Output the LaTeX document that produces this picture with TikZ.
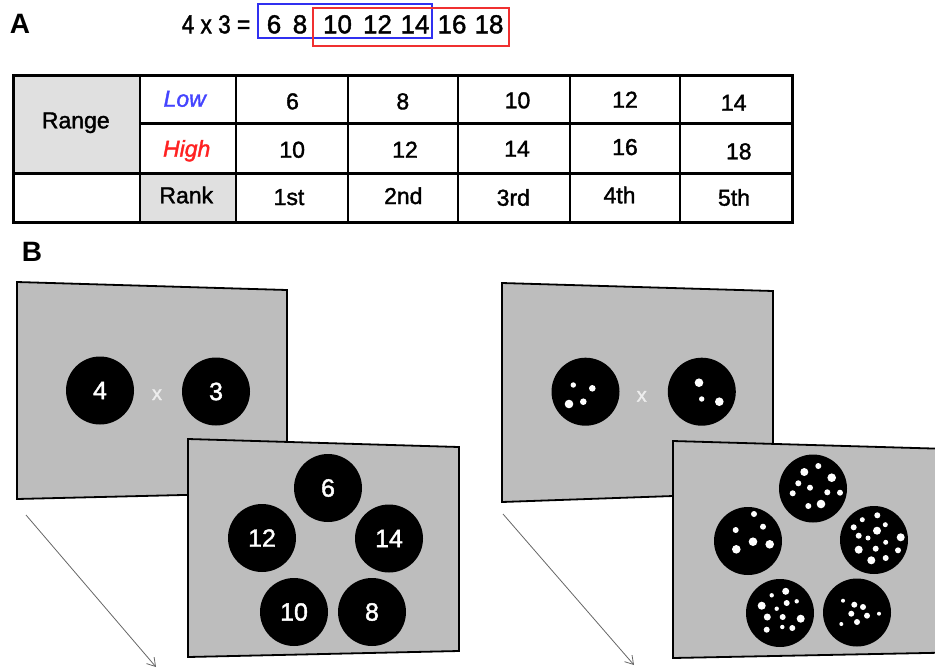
\documentclass[tikz,border=0pt]{standalone}
\usepackage{fontspec}
\setmainfont{Liberation Sans}
\newfontfamily\heavysans{Liberation Sans}[FakeBold=1.6]
\usetikzlibrary{arrows.meta}
\definecolor{screengray}{HTML}{BDBDBD}
\definecolor{cellgray}{HTML}{E0E0E0}
\definecolor{lowblue}{HTML}{4444FF}
\definecolor{highred}{HTML}{FF2222}
\definecolor{boxblue}{HTML}{3030F0}
\definecolor{boxred}{HTML}{F03030}
\begin{document}
\begin{tikzpicture}[x=1pt,y=-1pt,
  panel/.style={font=\fontsize{28}{30}\selectfont\bfseries, anchor=base, inner sep=0pt},
  eqtext/.style={font=\fontsize{26}{30}\selectfont\heavysans, anchor=base, inner sep=0pt},
  tabtext/.style={font=\fontsize{23}{26}\selectfont\heavysans, anchor=base, inner sep=0pt},
  screen/.style={fill=screengray, draw=black, line width=1.8pt, line join=miter},
  disc/.style={circle, fill=black, minimum size=68pt, inner sep=0pt, text=white, font=\fontsize{25}{28}\selectfont\heavysans},
  xmark/.style={text=white!93!black, font=\fontsize{20}{22}\selectfont\heavysans, anchor=base, inner sep=0pt},
  timearrow/.style={draw=black!60, line width=0.8pt, -{Straight Barb[length=8pt,width=10pt]}},
  gridline/.style={line width=2.6pt, line cap=rect},
  eqbox/.style={line width=1.5pt}
]
\useasboundingbox (0,0) rectangle (935,670);

% ---------- Panel A ----------
\node[panel] (labA) at (20,33.3) {A};
\node[eqtext] (eq) at (216,33.3) {\scalebox{0.87}[1]{4 x 3 =}};
\draw[eqbox, boxblue] (258,4) rectangle (432,38);
\draw[eqbox, boxred] (313,8) rectangle (509,46);
\node[eqtext] (n6) at (274,33.3) {6};
\node[eqtext] (n8) at (300,33.3) {8};
\node[eqtext] (n10) at (337.5,33.3) {10};
\node[eqtext] (n12) at (377.5,33.3) {12};
\node[eqtext] (n14) at (415,33.3) {14};
\node[eqtext] (n16) at (452,33.3) {16};
\node[eqtext] (n18) at (489,33.3) {18};

% table
\fill[cellgray] (13,75) rectangle (140,173);
\fill[cellgray] (140,173) rectangle (236,222);
\foreach \cx in {140,236,348,458,570,680}
  \draw[gridline] (\cx,75) -- (\cx,222);
\draw[gridline] (140,123.3) -- (792,123.3);
\draw[gridline] (13,173.3) -- (792,173.3);
\draw[gridline, line width=3pt] (13,75) rectangle (792,222);

\node[tabtext] (range) at (75.8,128.3) {Range};
\node[tabtext, text=lowblue] (low) at (184.7,106.7) {\itshape Low};
\node[tabtext, text=highred] (high) at (186.7,156.7) {\itshape High};
\node[tabtext] (rank) at (186.3,203.3) {Rank};

\node[tabtext] (l1) at (292.5,109.3) {6};
\node[tabtext] (l2) at (402.8,109.3) {8};
\node[tabtext] (l3) at (517.5,108.3) {10};
\node[tabtext] (l4) at (625,107.7) {12};
\node[tabtext] (l5) at (733.7,110.7) {14};

\node[tabtext] (h1) at (292.2,157.7) {10};
\node[tabtext] (h2) at (405,157.7) {12};
\node[tabtext] (h3) at (517,156.7) {14};
\node[tabtext] (h4) at (625,155) {16};
\node[tabtext] (h5) at (738.8,159.3) {18};

\node[tabtext] (r1) at (289,205) {1st};
\node[tabtext] (r2) at (403.3,204) {2nd};
\node[tabtext] (r3) at (513.3,205.7) {3rd};
\node[tabtext] (r4) at (619.5,203.3) {4th};
\node[tabtext] (r5) at (734,205.7) {5th};

% ---------- Panel B ----------
\node[panel] (labB) at (32,261.7) {B};

% left: symbolic
\draw[screen] (17,282) -- (287,290) -- (287,492.5) -- (17,499) -- cycle;
\node[disc] (d4) at (100,390.5) {4};
\node[disc] (d3) at (216,391.5) {3};
\node[xmark] (x1) at (157,400) {x};

\draw[screen] (188,439) -- (459,447) -- (459,651) -- (188,657) -- cycle;
\node[disc] (d6) at (328,488) {6};
\node[disc] (d12) at (262,538) {12};
\node[disc] (d14) at (389,538.5) {14};
\node[disc] (d10) at (294,612) {10};
\node[disc] (d8) at (372,612) {8};

\coordinate (t1s) at (26,515);
\coordinate (t1e) at (156,667);
\draw[timearrow] (t1s) -- (t1e);

% right: non-symbolic
\draw[screen] (502,283) -- (773,291) -- (773,492.5) -- (502,502) -- cycle;
\node[disc] (e4) at (585.5,391.7) {};
\node[disc] (e3) at (701.8,391.7) {};
\node[xmark] (x2) at (641.7,401.7) {x};
\foreach \px/\py/\pr in {573.3/385/2.7, 592.3/388.3/3.3, 569/404/4.3, 583.3/401.7/3.3,
                         699/382.7/4.3, 701.7/399/2.7, 719.3/401.7/4.3}
  \fill[white] (\px,\py) circle[radius=\pr pt];

\fill[screengray] (673,441) -- (936,448.6) -- (936,652.8) -- (673,658) -- cycle;
\draw[line width=1.8pt, line join=miter] (936,448.6) -- (673,441) -- (673,658) -- (936,652.8);
\node[disc] (f10) at (813,488.5) {};
\node[disc] (f6) at (748,541) {};
\node[disc] (f14) at (874,540) {};
\node[disc] (f12) at (780,613) {};
\node[disc] (f8) at (857,612.5) {};
% dots: top (10)
\foreach \px/\py/\pr in {804.3/472/4, 818.3/466/3, 831.7/477.7/4.3, 798.3/483.3/3, 810/487.7/3,
                         827.3/492.3/3, 840/492.7/3, 792.7/493.3/3, 808.3/506/3, 821/504/4.3}
  \fill[white] (\px,\py) circle[radius=\pr pt];
% left (6)
\foreach \px/\py/\pr in {754/514/3, 763/526.7/3, 735.7/530/3, 753/541.7/4.3, 769.7/544.3/4.3, 736.3/549.3/4.3}
  \fill[white] (\px,\py) circle[radius=\pr pt];
% right (14)
\foreach \px/\py/\pr in {877.3/515.3/3, 862.3/519.7/2.5, 885.3/524.7/2.5, 853.7/527.3/3, 877/530.7/4,
                         858.7/535.7/3, 868/538/2.5, 900.7/537.3/4, 885.7/542.3/2.5, 858.7/549.7/4,
                         875.7/548.7/3, 898/550.3/3, 871.3/560.3/4, 885.7/558/3}
  \fill[white] (\px,\py) circle[radius=\pr pt];
% bottom-left (12)
\foreach \px/\py/\pr in {785.7/591.3/3.5, 771.7/595.3/2.2, 796.7/601.3/2.2, 786.7/603/3, 761.7/605.7/4,
                         776.7/608.7/2.2, 767.3/617/3.5, 782.7/617/3, 800.7/618.7/4, 782.3/627/2.2,
                         792.3/628/3, 766.7/629.7/3}
  \fill[white] (\px,\py) circle[radius=\pr pt];
% bottom-right (8)
\foreach \px/\py/\pr in {843/600.7/2, 854.3/604.7/3, 863/607/3, 851.3/613.7/3, 867/615.7/3,
                         879/613.7/2, 857/622/3, 841.3/624/2}
  \fill[white] (\px,\py) circle[radius=\pr pt];

\coordinate (t2s) at (503,514);
\coordinate (t2e) at (634,665);
\draw[timearrow] (t2s) -- (t2e);
\end{tikzpicture}
\end{document}
